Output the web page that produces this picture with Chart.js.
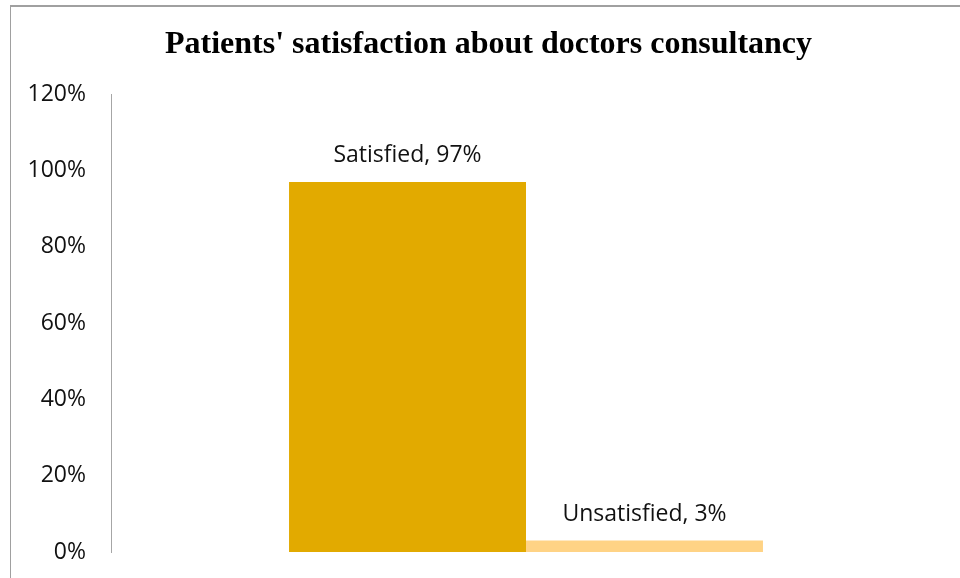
<!DOCTYPE html>
<html>
<head>
<meta charset="utf-8">
<script src="https://cdn.jsdelivr.net/npm/chart.js@4/dist/chart.umd.min.js"></script>
<style>
  html, body { margin: 0; padding: 0; background: #fff; overflow: hidden; }
  #frame {
    position: absolute; left: 10px; top: 5px;
    width: 955px; height: 572px;
    border-left: 1px solid #a0a0a0; border-top: 2px solid #a0a0a0;
  }
  #frame canvas { display: block; }
</style>
</head>
<body>
<div id="frame"><canvas id="satisfactionChart" width="955" height="572"></canvas></div>
<script>
// answers and their share of patients (%)
const answers = ['Satisfied', 'Unsatisfied'];
const shares = [97, 3];
const barColors = ['#E2AA00', '#FFD385'];
const yMax = 120;
const yStep = 20;

// writes "Answer, NN%" above each bar
const barValueLabels = {
    id: 'barValueLabels',
    afterDatasetsDraw(chart) {
        const ctx = chart.ctx;
        ctx.save();
        ctx.font = '23px "Open Sans"';
        ctx.fillStyle = '#111';
        ctx.textAlign = 'center';
        ctx.textBaseline = 'alphabetic';
        chart.data.datasets.forEach((ds, i) => {
            const bar = chart.getDatasetMeta(i).data[0];
            ctx.fillText(ds.label + ', ' + ds.data[0] + '%', bar.x, bar.y - 20);
        });
        ctx.restore();
    }
};

new Chart(document.getElementById('satisfactionChart'), {
    type: 'bar',
    data: {
        labels: [''],
        datasets: answers.map((a, i) => ({
            label: a,
            data: [shares[i]],
            backgroundColor: barColors[i],
            borderWidth: 0,
            categoryPercentage: 0.571,
            barPercentage: 1.0
        }))
    },
    options: {
        responsive: false,
        animation: false,
        layout: { padding: { left: 0, right: 0, top: 0, bottom: 27 } },
        plugins: {
            legend: { display: false },
            tooltip: { enabled: false },
            title: {
                display: true,
                text: "Patients' satisfaction about doctors consultancy",
                color: '#000',
                font: { family: '"Liberation Serif", "Times New Roman", serif', size: 32, weight: 'bold' },
                padding: { top: 19, bottom: 30 }
            }
        },
        scales: {
            x: { display: false },
            y: {
                min: 0,
                max: yMax,
                afterFit(scale) {
                    scale.width = 100;
                    scale.paddingTop = 0;
                    scale.paddingBottom = 0;
                },
                grid: { display: false, drawTicks: false },
                border: { display: true, color: '#a6a6a6', width: 1 },
                ticks: {
                    stepSize: yStep,
                    padding: 25,
                    color: '#111',
                    font: { family: '"Open Sans"', size: 23 },
                    callback: v => v + '%'
                }
            },
            // empty right margin strip
            yRight: {
                axis: 'y',
                position: 'right',
                min: 0,
                max: yMax,
                afterFit(scale) { scale.width = 25; },
                grid: { display: false, drawTicks: false },
                border: { display: false },
                ticks: { display: false }
            }
        }
    },
    plugins: [barValueLabels]
});
</script>
</body>
</html>
